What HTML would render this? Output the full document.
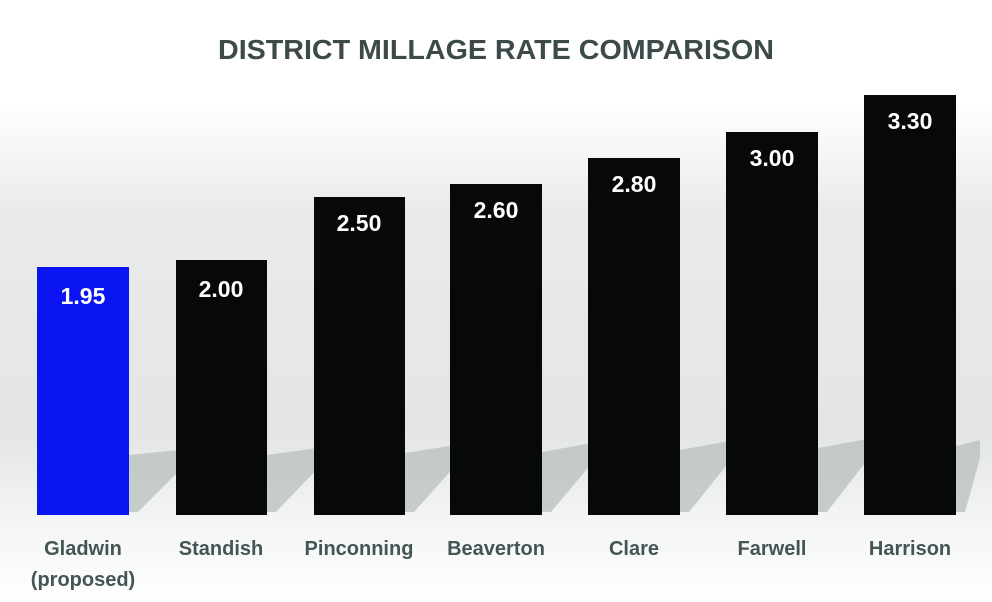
<!DOCTYPE html>
<html><head><style>
html,body{margin:0;padding:0;width:992px;height:602px;overflow:hidden;background:#fff}
</style></head><body>
<svg width="992" height="602" xmlns="http://www.w3.org/2000/svg" style="font-family:'Liberation Sans',sans-serif">
<defs>
<linearGradient id="bg" x1="0" y1="0" x2="0" y2="1">
<stop offset="0" stop-color="#ffffff"/>
<stop offset="0.17" stop-color="#ffffff"/>
<stop offset="0.35" stop-color="#e9ebea"/>
<stop offset="0.72" stop-color="#e3e6e5"/>
<stop offset="0.86" stop-color="#f3f4f4"/>
<stop offset="1" stop-color="#ffffff"/>
</linearGradient>
</defs>
<rect width="992" height="602" fill="url(#bg)"/>
<g fill="#b3bcbb" opacity="0.7">
<polygon points="129,455 180,450 180,470 138,512 129,512"/>
<polygon points="267,455 318,448 318,468 276,512 267,512"/>
<polygon points="405,453 456,445 456,465 414,512 405,512"/>
<polygon points="542,452 592,443 592,463 551,512 542,512"/>
<polygon points="680,450 730,441 730,461 689,512 680,512"/>
<polygon points="818,448 868,439 868,459 827,512 818,512"/>
<polygon points="956,446 980,440 980,458 965,512 956,512"/>
</g>
<text x="496" y="59" text-anchor="middle" font-size="28" font-weight="bold" fill="#3d4a4a" textLength="556" lengthAdjust="spacingAndGlyphs">DISTRICT MILLAGE RATE COMPARISON</text>
<rect x="37" y="267" width="92" height="248" fill="#0a14f0"/>
<rect x="176" y="260" width="91" height="255" fill="#070808"/>
<rect x="314" y="197" width="91" height="318" fill="#070808"/>
<rect x="450" y="184" width="92" height="331" fill="#070808"/>
<rect x="588" y="158" width="92" height="357" fill="#070808"/>
<rect x="726" y="132" width="92" height="383" fill="#070808"/>
<rect x="864" y="95" width="92" height="420" fill="#070808"/>
<g font-size="23" font-weight="bold" fill="#fff" text-anchor="middle">
<text x="83" y="304">1.95</text>
<text x="221" y="297">2.00</text>
<text x="359" y="231">2.50</text>
<text x="496" y="218">2.60</text>
<text x="634" y="192">2.80</text>
<text x="772" y="166">3.00</text>
<text x="910" y="129">3.30</text>
</g>
<g font-size="20" font-weight="bold" fill="#445555" text-anchor="middle">
<text x="83" y="555">Gladwin</text>
<text x="83" y="586">(proposed)</text>
<text x="221" y="555">Standish</text>
<text x="359" y="555">Pinconning</text>
<text x="496" y="555">Beaverton</text>
<text x="634" y="555">Clare</text>
<text x="772" y="555">Farwell</text>
<text x="910" y="555">Harrison</text>
</g>
</svg>
</body></html>
